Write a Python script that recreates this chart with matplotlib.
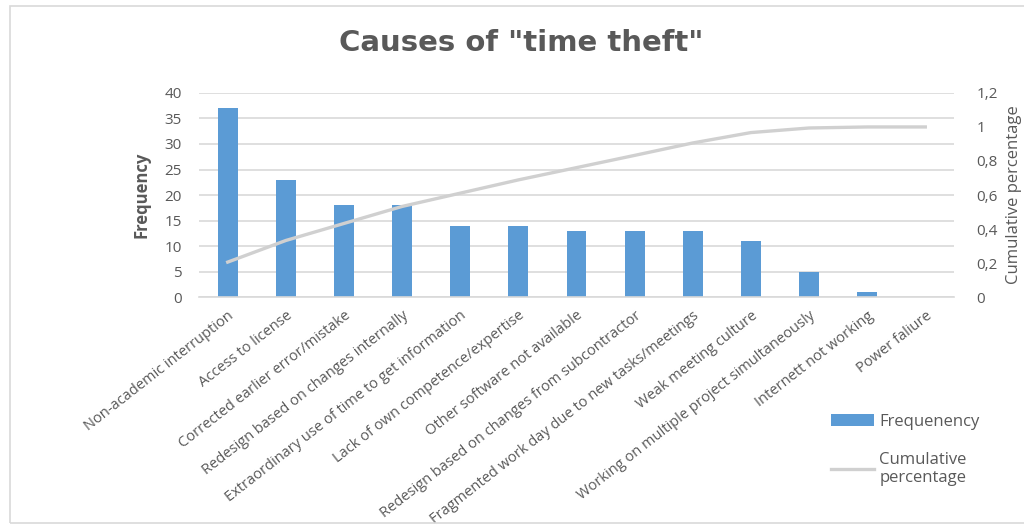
import matplotlib
matplotlib.use("Agg")
import matplotlib.pyplot as plt
from matplotlib.lines import Line2D
from matplotlib.patches import Patch, Rectangle
from matplotlib.ticker import FuncFormatter

plt.rcParams['font.family'] = ['Open Sans', 'DejaVu Sans']

# data
causes = [
    "Non-academic interruption",
    "Access to license",
    "Corrected earlier error/mistake",
    "Redesign based on changes internally",
    "Extraordinary use of time to get information",
    "Lack of own competence/expertise",
    "Other software not available",
    "Redesign based on changes from subcontractor",
    "Fragmented work day due to new tasks/meetings",
    "Weak meeting culture",
    "Working on multiple project simultaneously",
    "Internett not working",
    "Power faliure",
]
frequency = [37, 23, 18, 18, 14, 14, 13, 13, 13, 11, 5, 1, 0]
cumulative = [0.206, 0.333, 0.433, 0.533, 0.611, 0.689, 0.761, 0.833,
              0.906, 0.967, 0.994, 1.0, 1.0]

TXT = '#595959'
BLUE = '#5B9BD5'
LINE = '#D0D0D0'

fig = plt.figure(figsize=(10.24, 5.25), dpi=100)
ax = fig.add_axes([0.194, 0.434, 0.738, 0.389])
x = list(range(len(causes)))

ax.bar(x, frequency, width=0.34, color=BLUE, zorder=2)
ax.set_xlim(-0.5, len(causes) - 0.5)
ax.set_ylim(0, 40)
ax.set_yticks(range(0, 41, 5))
ax.grid(axis='y', color='#D9D9D9', linewidth=1.2, zorder=0)
for s in ['top', 'right', 'left']:
    ax.spines[s].set_visible(False)
ax.spines['bottom'].set_color('#D9D9D9')
ax.spines['bottom'].set_linewidth(1.2)
ax.tick_params(axis='both', length=0, colors=TXT, labelsize=11)
ax.tick_params(axis='y', pad=12)
ax.tick_params(axis='x', pad=8)
ax.set_xticks(x)
ax.set_xticklabels(causes, rotation=38, ha='right', rotation_mode='anchor',
                   fontsize=10.5, color=TXT)
ax.set_ylabel("Frequency", fontsize=12, fontweight='bold', color=TXT, labelpad=10)

ax2 = ax.twinx()
ax2.plot(x, cumulative, color=LINE, linewidth=2.4, zorder=3)
ax2.set_ylim(0, 1.2)
ax2.set_yticks([0, 0.2, 0.4, 0.6, 0.8, 1.0, 1.2])
ax2.yaxis.set_major_formatter(FuncFormatter(lambda v, p: f"{v:g}".replace('.', ',')))
for s in ax2.spines.values():
    s.set_visible(False)
ax2.tick_params(axis='y', length=0, colors=TXT, labelsize=11, pad=16)
ax2.set_ylabel("Cumulative percentage", fontsize=12, color=TXT, labelpad=6)

fig.suptitle('Causes of "time theft"', x=0.509, y=0.945, fontsize=21,
             fontweight='bold', color=TXT, family='DejaVu Sans')

handles = [Patch(facecolor=BLUE, edgecolor='none'),
           Line2D([0], [0], color=LINE, linewidth=2.4)]
fig.legend(handles, ["Frequenency", "Cumulative\npercentage"],
           loc='upper left', bbox_to_anchor=(0.797, 0.24),
           frameon=False, fontsize=12, labelcolor=TXT,
           handlelength=2.6, labelspacing=1.3, handletextpad=0.3)

fig.patches.append(Rectangle((0.01, 0.004), 1.2, 0.984, transform=fig.transFigure,
                             fill=False, edgecolor='#D9D9D9', linewidth=1.2))

fig.savefig("out.png", dpi=100)
